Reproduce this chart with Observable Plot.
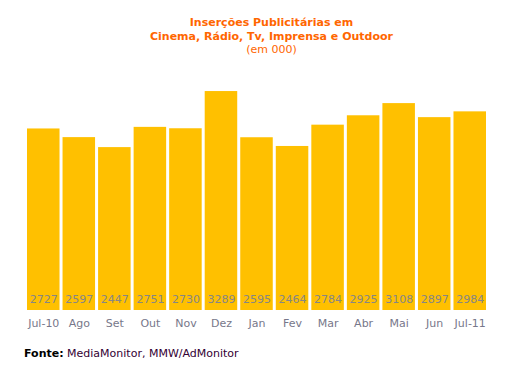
<!DOCTYPE html>
<html><head><meta charset="utf-8">
<script src="https://cdn.jsdelivr.net/npm/d3@7"></script>
<script src="https://cdn.jsdelivr.net/npm/@observablehq/plot@0.6"></script>
<style>
body{margin:0;background:#fff;font-family:"DejaVu Sans",Verdana,sans-serif;}
#wrap{position:relative;width:515px;height:375px;overflow:hidden;}
#title{position:absolute;top:16px;left:0;width:515px;box-sizing:border-box;padding-left:28px;text-align:center;color:#FF6600;font-size:11px;line-height:13.5px;}
#title b{font-weight:bold;}
#chart{position:absolute;top:60px;left:0;}
#src{position:absolute;top:347px;left:24px;font-size:11px;color:#330033;}
#src b{color:#000;}
</style></head>
<body>
<div id="wrap">
<div id="title"><b>Inserções Publicitárias em</b><br><b>Cinema, Rádio, Tv, Imprensa e Outdoor</b><br>(em 000)</div>
<div id="chart"></div>
<div id="src"><b>Fonte:</b> MediaMonitor, MMW/AdMonitor</div>
</div>
<script>
const months = ["Jul-10","Ago","Set","Out","Nov","Dez","Jan","Fev","Mar","Abr","Mai","Jun","Jul-11"];
const values = [2727,2597,2447,2751,2730,3289,2595,2464,2784,2925,3108,2897,2984];
const data = months.map((m,i)=>({month:m,value:values[i]}));
const chart = Plot.plot({
  width:515, height:280,
  marginLeft:27, marginRight:29, marginTop:17, marginBottom:30,
  style:{fontFamily:"DejaVu Sans, Verdana, sans-serif", fontSize:"11px", background:"transparent"},
  x:{domain:months, paddingInner:0.085, paddingOuter:0, round:false, label:null, tickSize:0, tickPadding:9},
  y:{domain:[0,3500], axis:null},
  marks:[
    Plot.barY(data,{x:"month", y:"value", fill:"#FFC000"}),
    Plot.text(data,{x:"month", y:0, text:d=>String(d.value), dy:-11, fill:"#868686", fontSize:11}),
    Plot.axisX({tickSize:0, tickPadding:9, color:"#77778a", fontSize:11, label:null})
  ]
});
document.getElementById("chart").appendChild(chart);
</script>
</body></html>
